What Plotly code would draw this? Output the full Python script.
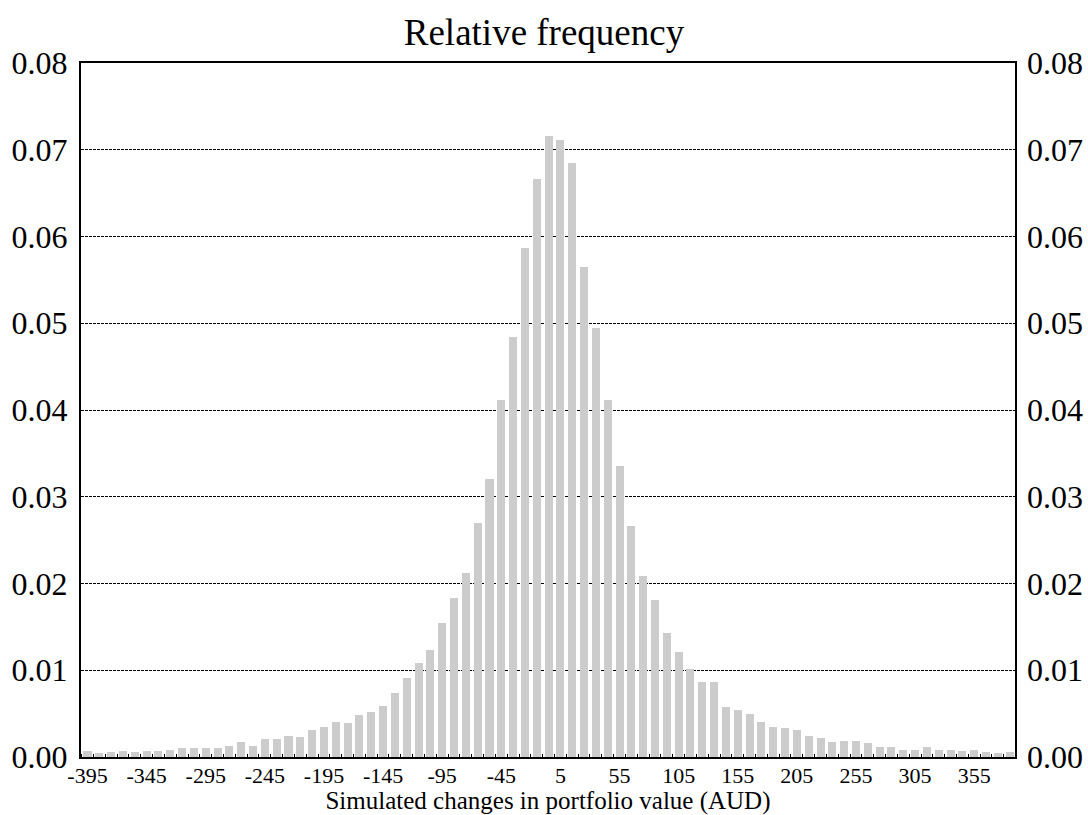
import plotly.graph_objects as go

# Bin centres (AUD)
bins = list(range(-395, 386, 10))

# Relative frequency per bin
freq = [
    0.00066, 0.00043, 0.00054, 0.00066, 0.00054, 0.00066, 0.00066, 0.00081,
    0.00105, 0.00105, 0.00105, 0.00105, 0.00128, 0.0017, 0.00128, 0.0021,
    0.0021, 0.0024, 0.0023, 0.0031, 0.0035, 0.0040, 0.0039, 0.0048,
    0.0052, 0.0059, 0.0074, 0.0091, 0.0108, 0.0123, 0.0155, 0.0183,
    0.0212, 0.0270, 0.0321, 0.0412, 0.0484, 0.0587, 0.0666, 0.0716,
    0.0711, 0.0685, 0.0565, 0.0495, 0.0412, 0.0335, 0.0266, 0.0209,
    0.0181, 0.0143, 0.0121, 0.0101, 0.0086, 0.0086, 0.0058, 0.0054,
    0.0050, 0.0040, 0.0035, 0.0033, 0.0031, 0.0024, 0.0022, 0.0017,
    0.0018, 0.0018, 0.0016, 0.0012, 0.0011, 0.0008, 0.0008, 0.0011,
    0.0008, 0.0008, 0.00066, 0.0008, 0.00054, 0.00043, 0.00054,
]

x_ticks = list(range(-395, 356, 50))
x_tick_labels = [str(v) for v in x_ticks]
y_ticks = [0.00, 0.01, 0.02, 0.03, 0.04, 0.05, 0.06, 0.07, 0.08]
y_tick_labels = [f"{v:.2f}" for v in y_ticks]

title_text = "Relative frequency"
x_title = "Simulated changes in portfolio value (AUD)"

FONT = "Liberation Serif, Times New Roman, serif"

fig = go.Figure()
fig.add_trace(go.Bar(
    x=bins, y=freq, width=6.8,
    marker=dict(color="#cccccc", line=dict(width=0)),
    hoverinfo="x+y", showlegend=False,
))
# invisible trace to carry the right-hand axis
fig.add_trace(go.Scatter(
    x=bins, y=freq, yaxis="y2", mode="markers",
    marker=dict(opacity=0), hoverinfo="skip", showlegend=False,
))

W, H = 1088, 815
fig.update_layout(
    width=W, height=H,
    margin=dict(l=81, r=73, t=63, b=58),
    paper_bgcolor="white", plot_bgcolor="white",
    font=dict(family=FONT, color="black"),
    title=dict(text=title_text, x=0.5, xanchor="center", yref="container",
               y=1 - 32 / H, yanchor="middle",
               font=dict(family=FONT, size=37, color="black")),
    xaxis=dict(
        range=[-400.5, 389.5], tickmode="array", tickvals=x_ticks, ticktext=x_tick_labels,
        ticks="", showgrid=False, zeroline=False, automargin=False,
        showline=True, linecolor="black", linewidth=2, mirror=True,
        tickfont=dict(family=FONT, size=22, color="black"), ticklabelstandoff=-2,
        title=dict(text=x_title, font=dict(family=FONT, size=25, color="black"), standoff=4),
        minor=dict(ticks="inside", dtick=10, tick0=0, ticklen=3, tickcolor="black", tickwidth=1),
    ),
    yaxis=dict(
        range=[0, 0.08], tickmode="array", tickvals=y_ticks, ticktext=y_tick_labels,
        ticks="", showgrid=True, gridcolor="black", gridwidth=1, griddash="3px,1px",
        zeroline=False, showline=True, linecolor="black", linewidth=2, mirror=True,
        automargin=False,
        tickfont=dict(family=FONT, size=32, color="black"), ticklabelstandoff=5,
    ),
    yaxis2=dict(
        range=[0, 0.08], overlaying="y", side="right", tickmode="array",
        tickvals=y_ticks, ticktext=y_tick_labels, ticks="", showgrid=False,
        zeroline=False, showline=False, automargin=False,
        tickfont=dict(family=FONT, size=32, color="black"), ticklabelstandoff=11,
    ),
    bargap=0,
)

fig.write_html(
    "out.html",
    config={"displayModeBar": False},
    post_script="document.body.style.margin='0';document.body.style.overflow='hidden';",
)
